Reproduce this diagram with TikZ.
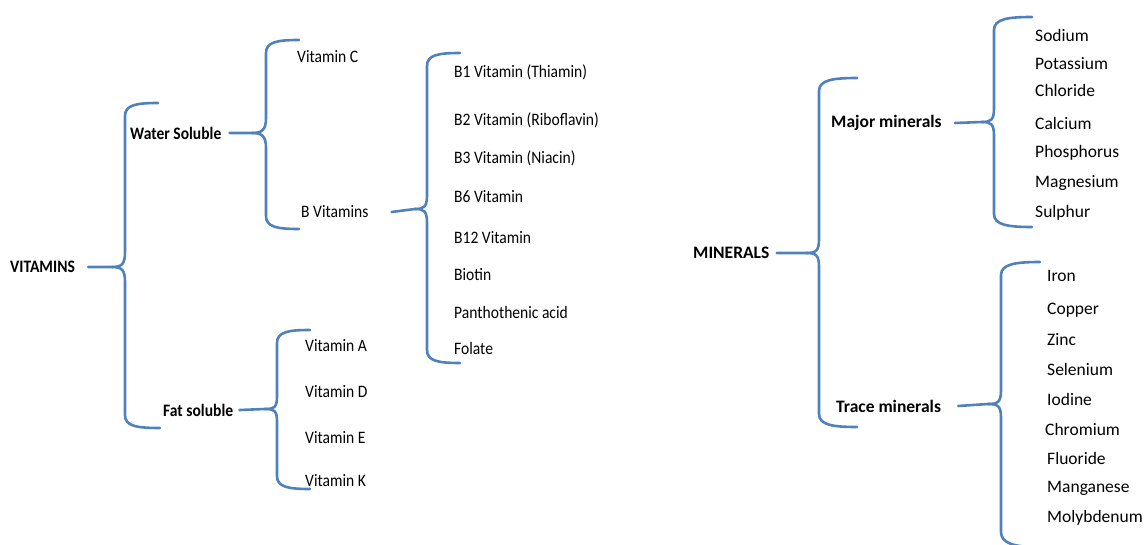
\documentclass[tikz,border=0pt]{standalone}
\usepackage{fontspec}
\setmainfont{Carlito}
\newfontfamily\narrowfont[FakeStretch=0.89]{Carlito}
\definecolor{braceblue}{HTML}{4F81BD}
\tikzset{
    item/.style={anchor=west, inner sep=0pt, font=\fontsize{17.5}{20}\selectfont},
    vitem/.style={item, font=\narrowfont\fontsize{17.5}{20}\selectfont},
    vhead/.style={vitem, font=\narrowfont\fontsize{17.5}{20}\selectfont\bfseries},
    mhead/.style={item, font=\fontsize{17.5}{20}\selectfont\bfseries},
    curly/.style={draw=braceblue, line width=2.6pt, line cap=round},
}
\begin{document}
\begin{tikzpicture}[x=1pt, y=-1pt]
        \useasboundingbox (0,0) rectangle (1147,545);
        % vitamins side
        \node[vhead] (vit) at (10,267) {VITAMINS};
        \node[vhead] (ws) at (130,133) {Water Soluble};
        \node[vhead] (fs) at (163,410) {Fat soluble};
        \node[vitem] (vc) at (297,57) {Vitamin C};
        \node[vitem] (bv) at (301,212) {B Vitamins};
        \node[vitem] (b1) at (454,72) {B1 Vitamin (Thiamin)};
        \node[vitem] (b2) at (454,120) {B2 Vitamin (Riboflavin)};
        \node[vitem] (b3) at (454,158) {B3 Vitamin (Niacin)};
        \node[vitem] (b6) at (454,197) {B6 Vitamin};
        \node[vitem] (b12) at (454,238) {B12 Vitamin};
        \node[vitem] (bio) at (454,275) {Biotin};
        \node[vitem] (pan) at (454,312) {Panthothenic acid};
        \node[vitem] (fol) at (454,348) {Folate};
        \node[vitem] (va) at (305,346) {Vitamin A};
        \node[vitem] (vd) at (305,392) {Vitamin D};
        \node[vitem] (ve) at (305,438) {Vitamin E};
        \node[vitem] (vk) at (305,481) {Vitamin K};
        % minerals side
        \node[mhead] (min) at (693,253) {MINERALS};
        \node[mhead] (maj) at (831,123) {Major minerals};
        \node[mhead] (tra) at (836,406) {Trace minerals};
        \node[item] (na) at (1035,35) {Sodium};
        \node[item] (k) at (1035,64) {Potassium};
        \node[item] (cl) at (1035,90) {Chloride};
        \node[item] (ca) at (1035,123) {Calcium};
        \node[item] (p) at (1035,153) {Phosphorus};
        \node[item] (mg) at (1035,183) {Magnesium};
        \node[item] (s) at (1035,213) {Sulphur};
        \node[item] (fe) at (1047,276) {Iron};
        \node[item] (cu) at (1047,310) {Copper};
        \node[item] (zn) at (1047,340) {Zinc};
        \node[item] (se) at (1047,369) {Selenium};
        \node[item] (io) at (1047,399) {Iodine};
        \node[item] (cr) at (1045,429) {Chromium};
        \node[item] (fl) at (1047,458) {Fluoride};
        \node[item] (mn) at (1047,488) {Manganese};
        \node[item] (mo) at (1047,518) {Molybdenum};
        % brace tips and ends
        \coordinate (vitTip) at (112,267);
        \coordinate (vitTop) at (158,103);
        \coordinate (vitBot) at (160,428);
        \coordinate (wsTip) at (252,133);
        \coordinate (wsTop) at (299,40);
        \coordinate (wsBot) at (299,229);
        \coordinate (bvTip) at (415,209);
        \coordinate (bvTop) at (460,53);
        \coordinate (bvBot) at (460,363);
        \coordinate (fsTip) at (265,409);
        \coordinate (fsTop) at (310,330);
        \coordinate (fsBot) at (310,489);
        \coordinate (minTip) at (806,253);
        \coordinate (minTop) at (857,78);
        \coordinate (minBot) at (857,427);
        \coordinate (majTip) at (982,122);
        \coordinate (majTop) at (1032,17);
        \coordinate (majBot) at (1032,227);
        \coordinate (traTip) at (988,404);
        \coordinate (traTop) at (1040,262);
        \coordinate (traBot) at (1036,547);
        % braces
        \draw[curly] ([xshift=13pt]vit.east) -- (vitTip) .. controls +(10,0) and +(0,12) .. (125,252) -- (125,116) .. controls +(0,-11) and +(-22,0) .. (vitTop);
        \draw[curly] (vitTip) .. controls +(10,0) and +(0,-12) .. (125,282) -- (125,415) .. controls +(0,11) and +(-24,0) .. (vitBot);
        \draw[curly] ([xshift=8pt]ws.east) -- (wsTip) .. controls +(10,0) and +(0,12) .. (266,118) -- (266,53) .. controls +(0,-11) and +(-22,0) .. (wsTop);
        \draw[curly] (wsTip) .. controls +(10,0) and +(0,-12) .. (266,148) -- (266,216) .. controls +(0,11) and +(-22,0) .. (wsBot);
        \draw[curly] ([xshift=23pt]bv.east) -- (bvTip) .. controls +(9,0) and +(0,12) .. (427,195) -- (427,66) .. controls +(0,-11) and +(-22,0) .. (bvTop);
        \draw[curly] (bvTip) .. controls +(9,0) and +(0,-12) .. (427,223) -- (427,350) .. controls +(0,11) and +(-22,0) .. (bvBot);
        \draw[curly] ([xshift=6pt]fs.east) -- (fsTip) .. controls +(9,0) and +(0,12) .. (277,396) -- (277,343) .. controls +(0,-11) and +(-22,0) .. (fsTop);
        \draw[curly] (fsTip) .. controls +(9,0) and +(0,-12) .. (277,422) -- (277,476) .. controls +(0,11) and +(-22,0) .. (fsBot);
        \draw[curly] ([xshift=7pt]min.east) -- (minTip) .. controls +(10,0) and +(0,12) .. (819,239) -- (819,91) .. controls +(0,-11) and +(-24,0) .. (minTop);
        \draw[curly] (minTip) .. controls +(10,0) and +(0,-12) .. (819,267) -- (819,414) .. controls +(0,11) and +(-24,0) .. (minBot);
        \draw[curly] ([xshift=13pt]maj.east) -- (majTip) .. controls +(9,0) and +(0,12) .. (994,108) -- (994,30) .. controls +(0,-11) and +(-24,0) .. (majTop);
        \draw[curly] (majTip) .. controls +(9,0) and +(0,-12) .. (994,136) -- (994,214) .. controls +(0,11) and +(-24,0) .. (majBot);
        \draw[curly] ([xshift=17pt]tra.east) -- (traTip) .. controls +(10,0) and +(0,12) .. (1001,390) -- (1001,275) .. controls +(0,-11) and +(-24,0) .. (traTop);
        \draw[curly] (traTip) .. controls +(10,0) and +(0,-12) .. (1001,418) -- (1001,532) .. controls +(0,11) and +(-22,0) .. (traBot);
    \end{tikzpicture}
\end{document}
